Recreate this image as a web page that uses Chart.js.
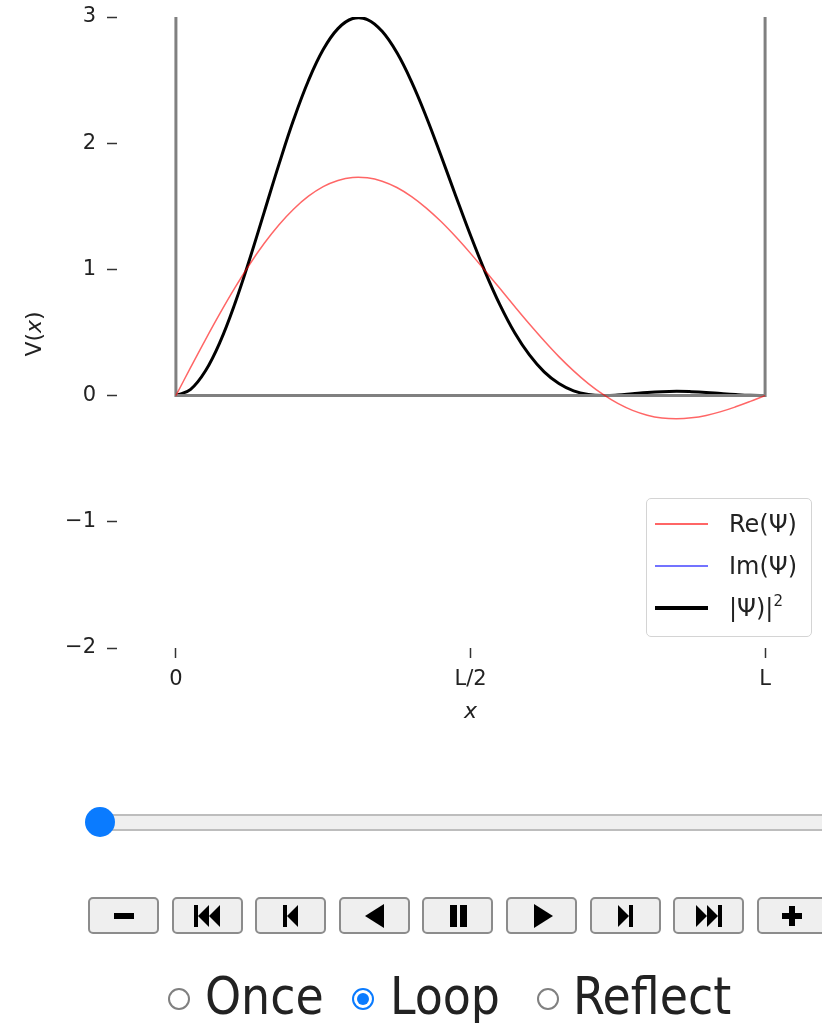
<!DOCTYPE html>
<html>
<head>
<meta charset="utf-8">
<script src="https://cdn.jsdelivr.net/npm/chart.js@4.4.0/dist/chart.umd.min.js"></script>
<style>
    html, body { margin: 0; padding: 0; background: #fff; overflow: hidden; }
    body { position: relative; width: 822px; height: 1023px; font-family: "DejaVu Sans", sans-serif; }
    #chart { position: absolute; left: 0; top: 0; width: 824px; height: 730px; }
    #legend {
        position: absolute; left: 646px; top: 498px; width: 166px; height: 139px;
        border: 1.5px solid #d4d4d4; border-radius: 5px; background: rgba(255,255,255,0.85);
        box-sizing: border-box;
    }
    .legend-row { position: absolute; left: 0; height: 30px; width: 100%; }
    .legend-line { position: absolute; left: 8px; width: 53px; top: 50%; }
    .legend-text { position: absolute; left: 82px; top: 50%; transform: translateY(-50%); font-size: 24px; color: #222; white-space: nowrap; }
    .legend-text sup { font-size: 15px; vertical-align: 10px; line-height: 0; }
    #track {
        position: absolute; left: 88px; top: 814px; width: 760px; height: 17px;
        background: #efefef; border-top: 2px solid #bdbdbd; border-bottom: 2px solid #bdbdbd; box-sizing: border-box;
    }
    #thumb { position: absolute; left: 85px; top: 807px; width: 30px; height: 30px; border-radius: 50%; background: #0a7bff; }
    .btn {
        position: absolute; top: 897px; width: 71px; height: 37px; box-sizing: border-box;
        border: 2px solid #8c8c8c; border-radius: 5px; background: #efefef;
        display: flex; align-items: center; justify-content: center;
    }
    .radio { position: absolute; top: 988px; width: 22px; height: 22px; border-radius: 50%; box-sizing: border-box; border: 2px solid #808080; background: #fff; }
    .radio.on { border-color: #0a7bff; }
    .radio.on::after { content: ""; position: absolute; left: 3px; top: 3px; width: 12px; height: 12px; border-radius: 50%; background: #0a7bff; }
    .rlabel { position: absolute; top: 967px; font-family: "DejaVu Sans Condensed", "DejaVu Sans", sans-serif; font-size: 51px; color: #222; line-height: 60px; }
</style>
</head>
<body>
<canvas id="chart" width="824" height="730"></canvas>
<div id="legend"></div>

<div id="track"></div>
<div id="thumb"></div>

<div id="buttons"></div>

<span class="radio" style="left:168px"></span><span class="rlabel" style="left:205px">Once</span>
<span class="radio on" style="left:352px"></span><span class="rlabel" style="left:390px">Loop</span>
<span class="radio" style="left:537px"></span><span class="rlabel" style="left:573px">Reflect</span>

<script>
// Positions along the well, in units of L
const xValues = [0, 0.025, 0.05, 0.075, 0.10, 0.125, 0.15, 0.175, 0.20, 0.225,
                 0.25, 0.275, 0.30, 0.325, 0.35, 0.375, 0.40, 0.425, 0.45, 0.475,
                 0.50, 0.525, 0.55, 0.575, 0.60, 0.625, 0.65, 0.675, 0.70, 0.725,
                 0.75, 0.775, 0.80, 0.825, 0.85, 0.875, 0.90, 0.925, 0.95, 0.975, 1.0];

// Re(Psi)
const reValues = [0, 0.223, 0.442, 0.653, 0.853, 1.039, 1.207, 1.354, 1.479, 1.580,
                  1.656, 1.705, 1.729, 1.726, 1.699, 1.649, 1.577, 1.486, 1.379, 1.258,
                  1.127, 0.989, 0.848, 0.706, 0.567, 0.434, 0.309, 0.196, 0.095, 0.009,
                  -0.062, -0.117, -0.155, -0.177, -0.183, -0.176, -0.157, -0.127, -0.089, -0.046, 0];

// Im(Psi) is flat at this frame
const imValues = [0, 0, 0, 0, 0, 0, 0, 0, 0, 0,
                  0, 0, 0, 0, 0, 0, 0, 0, 0, 0,
                  0, 0, 0, 0, 0, 0, 0, 0, 0, 0,
                  0, 0, 0, 0, 0, 0, 0, 0, 0, 0, 0];

// |Psi|^2
const probValues = [0, 0.050, 0.195, 0.426, 0.728, 1.079, 1.456, 1.834, 2.189, 2.497,
                    2.742, 2.908, 2.988, 2.980, 2.887, 2.718, 2.486, 2.208, 1.900, 1.582,
                    1.270, 0.979, 0.719, 0.498, 0.322, 0.188, 0.096, 0.038, 0.009, 0.000,
                    0.004, 0.014, 0.024, 0.031, 0.034, 0.031, 0.025, 0.016, 0.008, 0.002, 0];

// Potential well outline V(x)
const wellX = [0, 0, 1, 1];
const wellY = [3, 0, 0, 3];

const seriesLabels = ['Re(Ψ)', 'Im(Ψ)', '|Ψ)|'];
const seriesColors = ['rgba(255, 0, 0, 0.6)', 'rgba(0, 0, 255, 0.55)', '#000000'];
const seriesWidths = [1.5, 1.5, 3];

const xTickValues = [0, 0.5, 1];
const xTickLabels = ['0', 'L/2', 'L'];
const yTickValues = [-2, -1, 0, 1, 2, 3];

function toPoints(xs, ys) {
    return xs.map((x, i) => ({ x: x, y: ys[i] }));
}

// Axis labels drawn with mixed italic / upright pieces (like mathtext)
const axisLabels = {
    id: 'axisLabels',
    afterDraw(chart) {
        const ctx = chart.ctx;
        const area = chart.chartArea;
        ctx.save();
        ctx.fillStyle = '#222';
        ctx.textBaseline = 'middle';

        // x label
        ctx.font = 'italic 22px "DejaVu Sans"';
        ctx.textAlign = 'center';
        ctx.fillText('x', (area.left + area.right) / 2, 712);

        // y label, rotated
        const parts = [['V', 'normal'], ['(', 'normal'], ['x', 'italic'], [')', 'normal']];
        ctx.translate(35, 334);
        ctx.rotate(-Math.PI / 2);
        ctx.textAlign = 'left';
        let total = 0;
        parts.forEach(p => {
            ctx.font = p[1] + ' 22px "DejaVu Sans"';
            total += ctx.measureText(p[0]).width;
        });
        let pos = -total / 2;
        parts.forEach(p => {
            ctx.font = p[1] + ' 22px "DejaVu Sans"';
            ctx.fillText(p[0], pos, 0);
            pos += ctx.measureText(p[0]).width;
        });
        ctx.restore();
    }
};

const tickFont = { family: 'DejaVu Sans', size: 21 };

new Chart(document.getElementById('chart'), {
    type: 'scatter',
    data: {
        datasets: [
            {
                label: seriesLabels[0],
                data: toPoints(xValues, reValues),
                showLine: true,
                borderColor: seriesColors[0],
                borderWidth: seriesWidths[0],
                pointRadius: 0,
                tension: 0.4,
                order: 0
            },
            {
                label: 'V(x)',
                data: toPoints(wellX, wellY),
                showLine: true,
                borderColor: '#808080',
                borderWidth: 3,
                pointRadius: 0,
                tension: 0,
                order: 1
            },
            {
                label: seriesLabels[1],
                data: toPoints(xValues, imValues),
                showLine: true,
                borderColor: seriesColors[1],
                borderWidth: seriesWidths[1],
                pointRadius: 0,
                order: 2
            },
            {
                label: seriesLabels[2],
                data: toPoints(xValues, probValues),
                showLine: true,
                borderColor: seriesColors[2],
                borderWidth: seriesWidths[2],
                pointRadius: 0,
                tension: 0.4,
                order: 3
            }
        ]
    },
    options: {
        responsive: false,
        animation: false,
        devicePixelRatio: 1,
        layout: { padding: { top: 17, right: 0, bottom: 0, left: 0 } },
        plugins: {
            legend: { display: false },
            tooltip: { enabled: false }
        },
        scales: {
            x: {
                type: 'linear',
                min: -0.1,
                max: 1.1,
                afterBuildTicks: scale => {
                    scale.ticks = xTickValues.map(v => ({ value: v }));
                },
                afterFit: scale => {
                    scale.height = 82;
                    scale.paddingLeft = 0;
                    scale.paddingRight = 0;
                },
                border: { display: false },
                grid: {
                    drawOnChartArea: false,
                    drawTicks: true,
                    tickLength: 10,
                    tickColor: '#333',
                    tickWidth: 1.5
                },
                ticks: {
                    padding: 9,
                    color: '#222',
                    font: tickFont,
                    maxRotation: 0,
                    callback: value => xTickLabels[xTickValues.indexOf(value)]
                }
            },
            y: {
                type: 'linear',
                min: -2,
                max: 3,
                afterBuildTicks: scale => {
                    scale.ticks = yTickValues.map(v => ({ value: v }));
                },
                afterFit: scale => {
                    scale.width = 117;
                    scale.paddingTop = 0;
                    scale.paddingBottom = 0;
                },
                border: { display: false },
                grid: {
                    drawOnChartArea: false,
                    drawTicks: true,
                    tickLength: 10,
                    tickColor: '#333',
                    tickWidth: 1.5
                },
                ticks: {
                    padding: 11,
                    color: '#222',
                    font: tickFont,
                    callback: value => value < 0 ? '\u2212' + Math.abs(value) : String(value)
                }
            }
        }
    },
    plugins: [axisLabels]
});

// Legend box in the lower right of the axes
const legend = document.getElementById('legend');
const rowCenters = [25, 67, 109];
seriesLabels.forEach((label, i) => {
    const row = document.createElement('div');
    row.className = 'legend-row';
    row.style.top = (rowCenters[i] - 15) + 'px';
    const line = document.createElement('div');
    line.className = 'legend-line';
    line.style.height = (i === 2 ? 4 : 2) + 'px';
    line.style.background = seriesColors[i];
    line.style.marginTop = (i === 2 ? -2 : -1) + 'px';
    const text = document.createElement('span');
    text.className = 'legend-text';
    text.textContent = label;
    if (i === 2) {
        const sup = document.createElement('sup');
        sup.textContent = '2';
        text.appendChild(sup);
    }
    row.appendChild(line);
    row.appendChild(text);
    legend.appendChild(row);
});

// Animation control buttons
const icons = [
    '<rect x="2" y="9" width="20" height="6"/>',
    '<rect x="0" y="1" width="4" height="22"/><polygon points="4,12 15,1 15,23"/><polygon points="15,12 26,1 26,23"/>',
    '<rect x="4" y="1" width="4" height="22"/><polygon points="8,12 19,1 19,23"/>',
    '<polygon points="3,12 22,0 22,24"/>',
    '<rect x="4" y="1" width="7" height="22"/><rect x="14" y="1" width="7" height="22"/>',
    '<polygon points="4,0 23,12 4,24"/>',
    '<polygon points="5,1 16,12 5,23"/><rect x="16" y="1" width="4" height="22"/>',
    '<polygon points="0,1 11,12 0,23"/><polygon points="11,1 22,12 11,23"/><rect x="22" y="1" width="4" height="22"/>',
    '<rect x="9" y="2" width="6" height="20"/><rect x="2" y="9" width="20" height="6"/>'
];
const buttons = document.getElementById('buttons');
icons.forEach((svg, i) => {
    const b = document.createElement('div');
    b.className = 'btn';
    b.style.left = (88 + i * 83.6) + 'px';
    const w = (i === 1 || i === 7) ? 26 : 24;
    b.innerHTML = '<svg width="' + w + '" height="24" viewBox="0 0 ' + w + ' 24" fill="#000">' + svg + '</svg>';
    buttons.appendChild(b);
});
</script>
</body>
</html>
